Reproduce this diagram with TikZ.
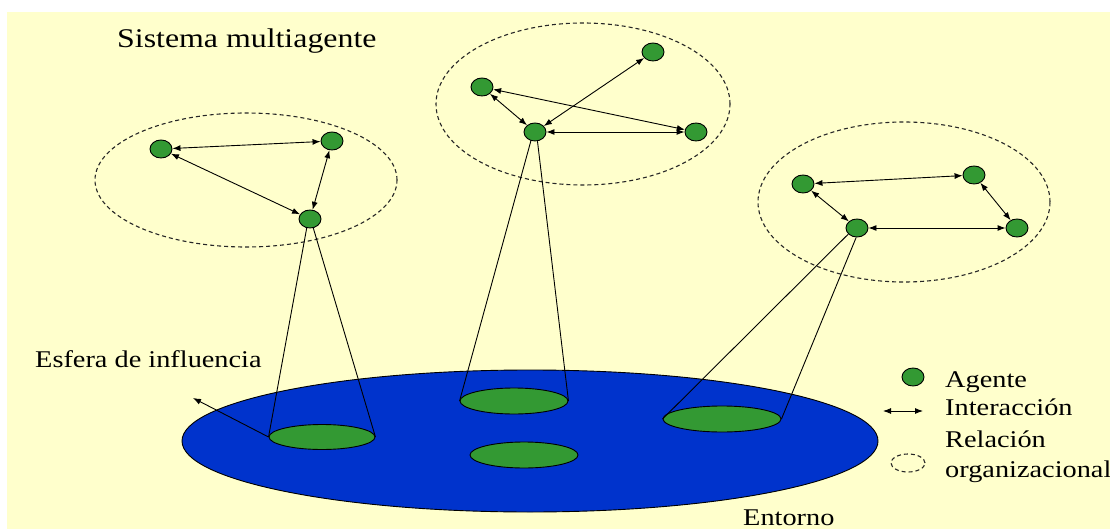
\documentclass[tikz,border=0pt]{standalone}
\usepackage{fontspec}
\setmainfont{Liberation Serif}[FakeStretch=1.18]
\usetikzlibrary{arrows.meta,shapes.geometric}
\definecolor{bgyellow}{HTML}{FFFFCC}
\definecolor{agentgreen}{HTML}{339933}
\definecolor{envblue}{HTML}{0033CC}
\tikzset{
  agent/.style={ellipse,draw=black,line width=0.9pt,fill=agentgreen,minimum width=22pt,minimum height=18pt,inner sep=0pt},
  inter/.style={{Latex[length=8pt,width=6pt]}-{Latex[length=8pt,width=6pt]},line width=0.9pt},
  org/.style={ellipse,draw=black!85,dash pattern=on 4pt off 3pt,line width=1.1pt,inner sep=0pt},
  zone/.style={ellipse,draw=black,line width=0.9pt,fill=agentgreen,inner sep=0pt},
  cone/.style={line width=0.9pt},
  lbl/.style={inner sep=0pt,font=\fontsize{24}{28}\selectfont},
}
\begin{document}
\begin{tikzpicture}[x=1pt,y=-1pt]
\useasboundingbox (0,0) rectangle (1110,529);
\fill[bgyellow] (7,12) rectangle (1110,529);
% environment
\node[ellipse,draw=black,line width=0.9pt,fill=envblue,minimum width=696pt,minimum height=142pt,inner sep=0pt] (env) at (530,441) {};
\node[zone,minimum width=106pt,minimum height=25pt] (g1) at (322,437) {};
\node[zone,minimum width=108pt,minimum height=26pt] (g2) at (514,401) {};
\node[zone,minimum width=118pt,minimum height=26pt] (g3) at (722,419) {};
\node[zone,minimum width=108pt,minimum height=26pt] (g4) at (524,455) {};
% organisations
\node[org,minimum width=302pt,minimum height=134pt] (o1) at (246,180) {};
\node[org,minimum width=294pt,minimum height=162pt] (o2) at (583,104) {};
\node[org,minimum width=292pt,minimum height=160pt] (o3) at (904,202) {};
% agents cluster 1
\node[agent] (a1) at (161,149) {};
\node[agent] (a2) at (332,141) {};
\node[agent] (a3) at (310,219) {};
\draw[inter] (a1) -- (a2);
\draw[inter] (a1) -- (a3);
\draw[inter] (a2) -- (a3);
% agents cluster 2
\node[agent] (b1) at (653,52) {};
\node[agent] (b2) at (482,87) {};
\node[agent] (b3) at (535,132) {};
\node[agent] (b4) at (696,132) {};
\draw[inter] (b1) -- (b3);
\draw[inter] (b2) -- (b4);
\draw[inter] (b2) -- (b3);
\draw[inter] (b3) -- (b4);
% agents cluster 3
\node[agent] (c1) at (803,184) {};
\node[agent] (c2) at (974,175) {};
\node[agent] (c3) at (857,228) {};
\node[agent] (c4) at (1017,228) {};
\draw[inter] (c1) -- (c2);
\draw[inter] (c1) -- (c3);
\draw[inter] (c3) -- (c4);
\draw[inter] (c2) -- (c4);
% cones
\draw[cone] (a3.250) -- (g1.west);
\draw[cone] (a3.290) -- (g1.east);
\draw[cone] (b3.245) -- (g2.west);
\draw[cone] (b3.285) -- (g2.east);
\draw[cone] (c3.215) -- (g3.west);
\draw[cone] (c3.265) -- (g3.east);
% influence sphere
\coordinate (esf) at (193,398);
\draw[-{Latex[length=8pt,width=6pt]},line width=0.9pt] (g1.west) -- (esf);
% texts
\node[inner sep=0pt,anchor=base west,font=\fontsize{27}{32}\selectfont] (title) at (117,48) {Sistema multiagente};
\node[lbl,anchor=base west] (esft) at (35,367) {Esfera de influencia};
\node[lbl,anchor=base west] (ent) at (743,525) {Entorno};
% legend
\node[agent] (lag) at (913,377) {};
\node[lbl,anchor=base west] (lagt) at (945,387) {Agente};
\coordinate (li1) at (883,411);
\coordinate (li2) at (923,411);
\draw[inter] (li1) -- (li2);
\node[lbl,anchor=base west] (lit) at (945,415) {Interacción};
\node[org,minimum width=34pt,minimum height=18pt] (lor) at (908,463) {};
\node[lbl,anchor=base west] (lort1) at (945,447) {Relación};
\node[lbl,anchor=base west] (lort2) at (945,477) {organizacional};
\end{tikzpicture}
\end{document}
